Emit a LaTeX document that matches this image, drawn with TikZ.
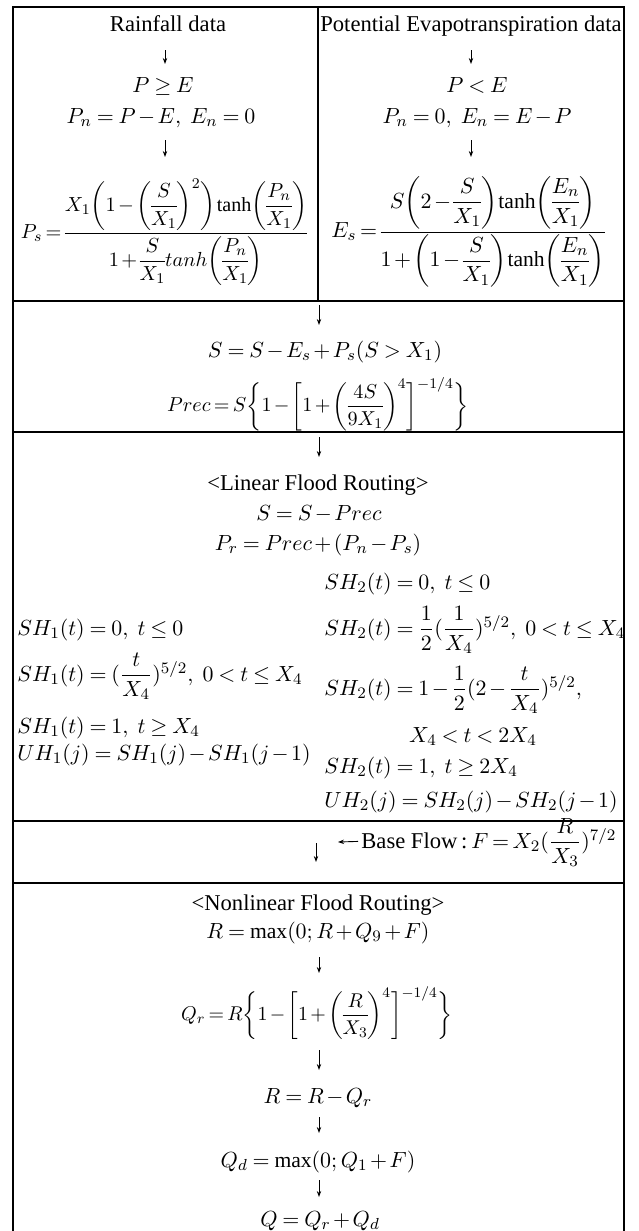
\documentclass[tikz,border=0pt]{standalone}
\usepackage{amsmath}
\usepackage{graphicx}
\usepackage{fontspec}
\setmainfont{Liberation Serif}
\usetikzlibrary{arrows.meta}
\newcommand\myfs{\fontsize{11.3}{13.6}\selectfont}
\newcommand\mymfs{\fontsize{10.8}{13}\selectfont\medmuskip=2mu plus 1mu\thickmuskip=4mu plus 2mu}
\newcommand\tightmath{\thinmuskip=1mu\medmuskip=2mu\thickmuskip=3mu\nulldelimiterspace=0pt}
\begin{document}
\begin{tikzpicture}[x=0.5pt,y=-0.5pt,
  txt/.style={font=\myfs,inner sep=0pt},
  mtxt/.style={font=\mymfs,inner sep=0pt},
  btxt/.style={txt,anchor=base},
  bm/.style={mtxt,anchor=base},
  lm/.style={mtxt,anchor=base west},
  frame/.style={line width=1pt},
  arr/.style={-{Stealth[length=3pt,width=2.2pt]},line width=0.45pt}]
\useasboundingbox (0,0) rectangle (638,1231);
% frame
\draw[frame] (13,1231) -- (13,6.5) -- (624,6.5) -- (624,1231);
\draw[frame] (318,6.5) -- (318,301);
\foreach \yy in {301,432,821,883} \draw[frame] (13,\yy) -- (624,\yy);
% ---- left column
\node[btxt] (rain) at (168,32) {Rainfall data};
\coordinate (a1s) at (165,50); \coordinate (a1e) at (165,64);
\draw[arr] (a1s) -- (a1e);
\node[bm] (pge) at (163,92) {$P \geq E$};
\node[bm] (pn1) at (161,123) {$P_n = P - E,\ E_n = 0$};
\coordinate (a2s) at (165,140); \coordinate (a2e) at (165,157);
\draw[arr] (a2s) -- (a2e);
\node[mtxt] (ps) at (164,232) {\scalebox{0.93}{\tightmath$\displaystyle P_s = \dfrac{X_1\biggl(1-\biggl(\dfrac{S}{X_1}\biggr)^{2}\biggr)\tanh\biggl(\dfrac{P_n}{X_1}\biggr)}{1+\dfrac{S}{X_1}tanh\biggl(\dfrac{P_n}{X_1}\biggr)}$}};
% ---- right column
\node[btxt] (pet) at (471,32) {Potential Evapotranspiration data};
\coordinate (b1s) at (471,50); \coordinate (b1e) at (471,64);
\draw[arr] (b1s) -- (b1e);
\node[bm] (plt) at (477,92) {$P < E$};
\node[bm] (pn2) at (477,123) {$P_n = 0,\ E_n = E - P$};
\coordinate (b2s) at (471,140); \coordinate (b2e) at (471,157);
\draw[arr] (b2s) -- (b2e);
\node[mtxt] (es) at (468,232) {\tightmath$\displaystyle E_s = \dfrac{S\biggl(2-\dfrac{S}{X_1}\biggr)\tanh\biggl(\dfrac{E_n}{X_1}\biggr)}{1+\biggl(1-\dfrac{S}{X_1}\biggr)\tanh\biggl(\dfrac{E_n}{X_1}\biggr)}$};
% ---- storage
\coordinate (c1s) at (319,305); \coordinate (c1e) at (319,325);
\draw[arr] (c1s) -- (c1e);
\node[bm] (seq) at (325,357) {$S = S - E_s + P_s(S > X_1)$};
\node[mtxt] (prec) at (318,404) {\scalebox{0.92}{\tightmath$\displaystyle Prec = S\biggl\{1-\biggl[1+\biggl(\dfrac{4S}{9X_1}\biggr)^{4}\biggr]^{-1/4}\biggr\}$}};
% ---- linear routing
\coordinate (d1s) at (319,437); \coordinate (d1e) at (319,457);
\draw[arr] (d1s) -- (d1e);
\node[btxt] (lfr) at (318,490) {<Linear Flood Routing>};
\node[bm] (sp) at (319,520) {$S = S - Prec$};
\node[bm] (pr) at (318,550) {$P_r = Prec + (P_n - P_s)$};
\node[lm] (sh2a) at (324,589) {$SH_2(t) = 0,\ t \le 0$};
\node[lm] (sh2b) at (324,635) {$SH_2(t) = \dfrac{1}{2}(\dfrac{1}{X_4})^{5/2},\ 0 < t \le X_4$};
\node[lm] (sh2c) at (324,695) {$SH_2(t) = 1 - \dfrac{1}{2}(2 - \dfrac{t}{X_4})^{5/2},$};
\node[bm] (sh2d) at (473,742) {$X_4 < t < 2X_4$};
\node[lm] (sh2e) at (324,773) {$SH_2(t) = 1,\ t \ge 2X_4$};
\node[lm] (uh2) at (324,807) {$UH_2(j) = SH_2(j) - SH_2(j-1)$};
\node[lm] (sh1a) at (17,635) {$SH_1(t) = 0,\ t \le 0$};
\node[lm] (sh1b) at (17,681) {$SH_1(t) = (\dfrac{t}{X_4})^{5/2},\ 0 < t \le X_4$};
\node[lm] (sh1c) at (17,733) {$SH_1(t) = 1,\ t \ge X_4$};
\node[lm] (uh1) at (17,760) {$UH_1(j) = SH_1(j) - SH_1(j-1)$};
% ---- base flow
\coordinate (e1s) at (316,843); \coordinate (e1e) at (316,862);
\draw[arr] (e1s) -- (e1e);
\node[txt,anchor=base west] (bf) at (361,848) {Base Flow\,:\,{\mymfs\thickmuskip=3mu$F = X_2(\dfrac{R}{X_3})^{7/2}$}};
\coordinate (bfa) at (338,842);
\draw[arr] ([xshift=-1.5pt,yshift=3.3pt]bf.base west) -- (bfa);
% ---- nonlinear routing
\node[btxt] (nfr) at (318,910) {<Nonlinear Flood Routing>};
\node[bm] (rmax) at (318,938) {$R = \max(0;R + Q_9 + F)$};
\coordinate (f1s) at (319,957); \coordinate (f1e) at (319,973);
\draw[arr] (f1s) -- (f1e);
\node[mtxt] (qr) at (317,1013) {\scalebox{0.91}{\tightmath$\displaystyle Q_r = R\biggl\{1-\biggl[1+\biggl(\dfrac{R}{X_3}\biggr)^{4}\biggr]^{-1/4}\biggr\}$}};
\coordinate (f2s) at (319,1050); \coordinate (f2e) at (319,1070);
\draw[arr] (f2s) -- (f2e);
\node[bm] (rr) at (318,1103) {$R = R - Q_r$};
\coordinate (f3s) at (319,1117); \coordinate (f3e) at (319,1133);
\draw[arr] (f3s) -- (f3e);
\node[bm] (qd) at (318,1167) {$Q_d = \max(0;Q_1 + F)$};
\coordinate (f4s) at (319,1180); \coordinate (f4e) at (319,1197);
\draw[arr] (f4s) -- (f4e);
\node[bm] (qq) at (320,1226) {$Q = Q_r + Q_d$};
\end{tikzpicture}
\end{document}
